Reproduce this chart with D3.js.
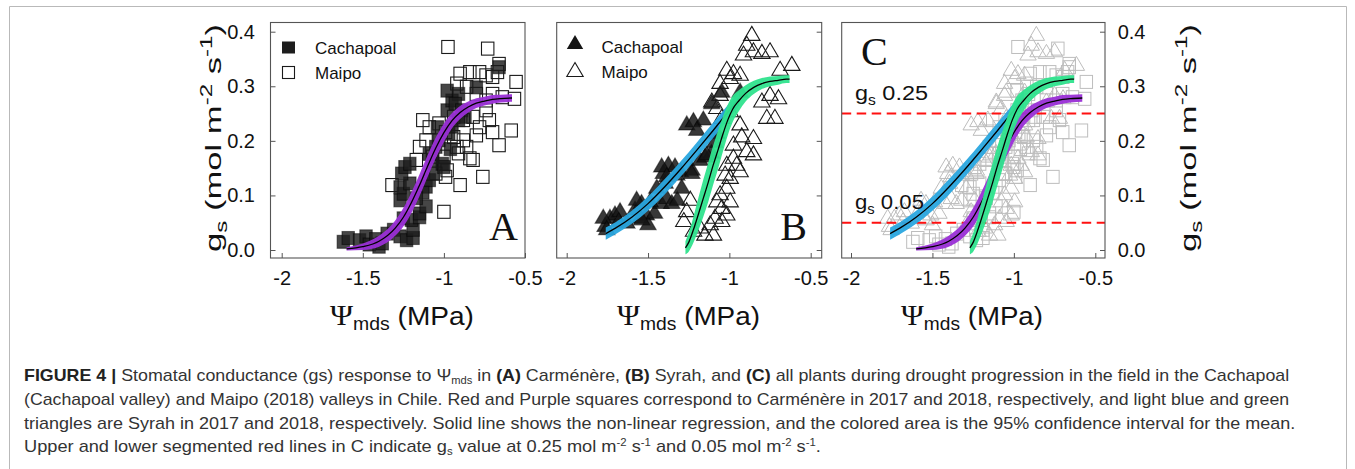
<!DOCTYPE html>
<html>
<head>
<meta charset="utf-8">
<script src="https://cdn.jsdelivr.net/npm/d3@7"></script>
<style>
  html, body { margin: 0; padding: 0; background: #fff; }
  svg { display: block; font-family: "Liberation Sans", Arial, Helvetica, sans-serif; }
</style>
</head>
<body>
<svg id="fig" width="1355" height="469"></svg>
<script>
// ---------- axis ticks ----------
const xTicks = [-2, -1.5, -1, -0.5];
const xTickLabels = ["-2", "-1.5", "-1", "-0.5"];
const yTicks = [0, 0.1, 0.2, 0.3, 0.4];
const yTickLabels = ["0.0", "0.1", "0.2", "0.3", "0.4"];

// ---------- Carménère (squares): Ψmds (MPa) vs gs (mol m-2 s-1) ----------
const carmCachX = [-1.62,-1.59,-1.52,-1.48,-1.46,-1.42,-1.40,-1.38,-1.35,-1.31,-1.27,-1.23,-1.19,-1.19,-1.25,-1.20,-1.15,-1.27,-1.25,-1.27,-1.21,-1.26,-1.24,-1.21,-1.15,-1.11,-1.11,-1.09,-1.07,-1.07,-1.09,-1.05,-1.03,-1.01,-1.00,-0.97,-0.95,-0.98,-0.95,-0.98,-0.91,-0.93,-0.89,-0.87,-0.91,-0.80,-0.66,-1.13,-1.17,-1.04,-0.96];
const carmCachY = [0.015,0.022,0.018,0.025,0.010,0.020,0.006,0.012,0.030,0.037,0.025,0.018,0.022,0.037,0.058,0.055,0.060,0.091,0.103,0.115,0.122,0.140,0.152,0.158,0.067,0.080,0.116,0.128,0.140,0.165,0.176,0.189,0.201,0.158,0.152,0.213,0.226,0.256,0.274,0.292,0.286,0.268,0.256,0.244,0.238,0.298,0.335,0.105,0.095,0.225,0.185];
const carmMaipoX = [-0.975,-0.73,-0.66,-0.67,-0.555,-0.565,-0.90,-0.84,-0.78,-0.74,-0.70,-0.92,-0.86,-0.80,-0.74,-0.70,-0.64,-0.74,-0.72,-0.70,-0.585,-0.66,-0.80,-0.86,-0.84,-0.91,-0.82,-0.76,-0.90,-1.32,-1.00,-1.13,-1.09,-1.03,-0.99,-0.94,-0.88,-0.92,-1.15,-1.11,-1.07,-1.00,-0.98,-0.99,-1.05,-1.17,-0.94,-0.88,-0.82,-0.78];
const carmMaipoY = [0.372,0.369,0.341,0.326,0.308,0.277,0.323,0.326,0.326,0.320,0.317,0.305,0.299,0.286,0.274,0.286,0.280,0.256,0.238,0.216,0.219,0.192,0.210,0.189,0.168,0.177,0.165,0.134,0.119,0.119,0.070,0.238,0.225,0.232,0.216,0.207,0.201,0.189,0.189,0.201,0.171,0.171,0.146,0.134,0.140,0.165,0.244,0.238,0.244,0.225];

// ---------- Syrah (triangles) ----------
const syrCachX = [-1.764,-1.734,-1.703,-1.672,-1.68,-1.63,-1.58,-1.54,-1.55,-1.51,-1.50,-1.46,-1.42,-1.385,-1.354,-1.32,-1.395,-1.406,-1.375,-1.334,-1.30,-1.23,-1.18,-1.15,-1.11,-1.262,-1.221,-1.16,-1.20,-1.077,-1.139,-1.047,-0.934,-1.108,-1.416,-1.385,-1.323,-1.231,-1.293,-1.446,-1.57,-1.487,-1.539,-1.775,-1.754,-1.09];
const syrCachY = [0.046,0.061,0.067,0.073,0.055,0.052,0.076,0.088,0.061,0.067,0.049,0.070,0.088,0.097,0.088,0.094,0.125,0.143,0.158,0.155,0.146,0.149,0.167,0.173,0.180,0.232,0.238,0.241,0.222,0.216,0.177,0.292,0.292,0.271,0.155,0.137,0.140,0.143,0.116,0.116,0.094,0.091,0.058,0.061,0.040,0.200];
const syrMaipoX = [-0.862,-0.893,-0.852,-0.913,-0.80,-0.75,-0.688,-0.616,-1.016,-0.975,-0.995,-1.057,-0.934,-1.057,-1.108,-1.077,-1.047,-0.995,-0.934,-0.924,-0.852,-0.893,-0.852,-0.975,-0.975,-1.016,-1.026,-0.995,-1.016,-1.057,-1.077,-1.047,-1.088,-1.047,-1.118,-1.098,-1.15,-1.24,-1.262,-1.28,-1.22,-1.18,-0.955,-0.934,-0.995,-1.016,-0.77,-0.72,-0.698,-0.80,-0.75];
const syrMaipoY = [0.396,0.378,0.366,0.360,0.363,0.366,0.332,0.341,0.332,0.326,0.317,0.308,0.323,0.286,0.274,0.262,0.244,0.256,0.232,0.210,0.207,0.183,0.177,0.195,0.171,0.158,0.140,0.134,0.116,0.104,0.091,0.079,0.061,0.055,0.049,0.030,0.030,0.094,0.073,0.055,0.037,0.043,0.158,0.146,0.091,0.067,0.244,0.244,0.280,0.274,0.286];

// ---------- non-linear regressions with 95% CI half-width ----------
const fitCarmX    = [-1.60,-1.50,-1.40,-1.30,-1.25,-1.20,-1.15,-1.10,-1.05,-1.00,-0.95,-0.90,-0.85,-0.80,-0.75,-0.70,-0.65,-0.58];
const fitCarmY    = [0.002,0.006,0.016,0.040,0.060,0.087,0.119,0.154,0.187,0.215,0.237,0.252,0.262,0.269,0.273,0.276,0.2775,0.2785];
const fitCarmCI   = [0.003,0.006,0.010,0.014,0.017,0.019,0.020,0.020,0.019,0.017,0.014,0.012,0.010,0.009,0.008,0.008,0.007,0.007];

const fitSyrCachX  = [-1.76,-1.70,-1.60,-1.50,-1.40,-1.30,-1.20,-1.10,-1.00,-0.94];
const fitSyrCachY  = [0.030,0.040,0.060,0.085,0.115,0.148,0.183,0.219,0.256,0.278];
const fitSyrCachCI = [0.011,0.011,0.012,0.013,0.014,0.014,0.014,0.014,0.013,0.013];

const fitSyrMaipoX  = [-1.27,-1.25,-1.22,-1.19,-1.16,-1.13,-1.10,-1.07,-1.04,-1.01,-0.98,-0.94,-0.90,-0.85,-0.80,-0.75,-0.70,-0.65,-0.63];
const fitSyrMaipoY  = [0.004,0.014,0.038,0.066,0.095,0.124,0.155,0.183,0.212,0.238,0.258,0.274,0.287,0.298,0.305,0.309,0.311,0.313,0.313];
const fitSyrMaipoCI = [0.012,0.017,0.024,0.030,0.034,0.036,0.036,0.035,0.032,0.028,0.024,0.019,0.015,0.012,0.010,0.009,0.008,0.007,0.007];

// gs reference levels drawn in panel C
const gsLevels = [0.25, 0.05];
const gsLevelLabels = ["0.25", "0.05"];

// ---------- colours ----------
const colPurple = "#9a2fd6";
const colBlue   = "#2aa7df";
const colGreen  = "#2fe38d";
const ink = "#111";
const frameCol = "#555";

const svg = d3.select("#fig");

// light page border around the figure
svg.append("path")
  .attr("d", "M9.5,469 V6.5 H1346.5 V469")
  .attr("fill", "none").attr("stroke", "#b9b9b9").attr("stroke-width", 1);

// stretch a group so its contents span a given width
function fitGroup(g, x, y, rot, width) {
  const bw = g.node().getBBox().width;
  const s = width / bw;
  g.attr("transform", `translate(${x},${y}) rotate(${rot}) scale(${s},1)`);
}

const panels = [
  { key: "A", frame: [270.5, 525, 22.5, 258], xr: [281.7, 525],    yAxis: "left",  yLabels: true },
  { key: "B", frame: [556.7, 821.7, 22.5, 258], xr: [566.7, 810.7], yAxis: "right", yLabels: false },
  { key: "C", frame: [841.7, 1105, 22.5, 258], xr: [851, 1095.3],   yAxis: "right", yLabels: true }
];

const yScale = d3.scaleLinear().domain([0, 0.4]).range([250, 31.7]);

function band(g, x, y, xs, ys, ci, color) {
  const pts = xs.map((v, i) => ({ x: v, y: ys[i], h: ci[i] }));
  g.append("path").datum(pts)
    .attr("d", d3.area().x(d => x(d.x)).y0(d => y(d.y - d.h)).y1(d => y(d.y + d.h)).curve(d3.curveMonotoneX))
    .attr("fill", color).attr("fill-opacity", 0.95);
  g.append("path").datum(pts)
    .attr("d", d3.line().x(d => x(d.x)).y(d => y(d.y)).curve(d3.curveMonotoneX))
    .attr("fill", "none").attr("stroke", "#000").attr("stroke-width", 1.3);
}

const triPath = "M0,-7.5L8.2,6.5L-8.2,6.5Z";

function drawSquares(g, x, y, xs, ys, filled, gray) {
  g.append("g").selectAll("rect").data(d3.zip(xs, ys)).join("rect")
    .attr("x", d => x(d[0]) - 6.2).attr("y", d => y(d[1]) - 6.5)
    .attr("width", 12.4).attr("height", 13)
    .attr("fill", filled ? "#1d1d1d" : "none")
    .attr("fill-opacity", filled ? 0.82 : null)
    .attr("stroke", gray ? "#bdbdbd" : (filled ? "#000" : "#1a1a1a"))
    .attr("stroke-opacity", filled ? 0.5 : 1)
    .attr("stroke-width", gray ? 1 : 1.1);
}

function drawTriangles(g, x, y, xs, ys, filled, gray) {
  g.append("g").selectAll("path").data(d3.zip(xs, ys)).join("path")
    .attr("d", triPath)
    .attr("transform", d => `translate(${x(d[0])},${y(d[1])})`)
    .attr("fill", filled ? "#151515" : "none")
    .attr("fill-opacity", filled ? 0.85 : null)
    .attr("stroke", gray ? "#bdbdbd" : (filled ? "#000" : "#1a1a1a"))
    .attr("stroke-opacity", filled ? 0.5 : 1)
    .attr("stroke-width", gray ? 1 : 1.1)
    .attr("stroke-linejoin", "miter");
}

function xTitle(cx, width) {
  const g = svg.append("g");
  const t = g.append("text").attr("x", 0).attr("y", 0).attr("fill", ink).attr("text-anchor", "middle");
  t.append("tspan").attr("font-family", "'Liberation Serif', 'Times New Roman', serif").attr("font-size", 29).text("Ψ");
  t.append("tspan").attr("font-size", 18).attr("dy", 5).text("mds");
  t.append("tspan").attr("font-size", 26).attr("dy", -5).text(" (MPa)");
  fitGroup(g, cx, 325, 0, width);
}

function yTitle(cx, cy, length) {
  const g = svg.append("g");
  const t = g.append("text").attr("x", 0).attr("y", 0).attr("fill", ink).attr("text-anchor", "middle").attr("font-size", 23);
  t.append("tspan").text("g");
  t.append("tspan").attr("font-size", 16).attr("dy", 6).text("s");
  t.append("tspan").attr("dy", -6).text(" (mol m");
  t.append("tspan").attr("font-size", 16).attr("dy", -9).text("-2");
  t.append("tspan").attr("dy", 9).text(" s");
  t.append("tspan").attr("font-size", 16).attr("dy", -9).text("-1");
  t.append("tspan").attr("dy", 9).text(")");
  fitGroup(g, cx, cy, -90, length);
}

panels.forEach(p => {
  const [L, R, T, B] = p.frame;
  const x = d3.scaleLinear().domain([-2, -0.5]).range(p.xr);
  const y = yScale;
  const g = svg.append("g").attr("class", "panel-" + p.key);

  // clip marks to the plotting frame
  const clipId = "clip" + p.key;
  svg.append("clipPath").attr("id", clipId)
    .append("rect").attr("x", L).attr("y", T).attr("width", R - L).attr("height", B - T);
  const plot = g.append("g").attr("clip-path", `url(#${clipId})`);

  if (p.key === "A") {
    drawSquares(plot, x, y, carmCachX, carmCachY, true, false);
    drawSquares(plot, x, y, carmMaipoX, carmMaipoY, false, false);
    band(plot, x, y, fitCarmX, fitCarmY, fitCarmCI, colPurple);
  } else if (p.key === "B") {
    drawTriangles(plot, x, y, syrCachX, syrCachY, true, false);
    drawTriangles(plot, x, y, syrMaipoX, syrMaipoY, false, false);
    band(plot, x, y, fitSyrCachX, fitSyrCachY, fitSyrCachCI, colBlue);
    band(plot, x, y, fitSyrMaipoX, fitSyrMaipoY, fitSyrMaipoCI, colGreen);
  } else {
    drawSquares(plot, x, y, carmCachX, carmCachY, false, true);
    drawSquares(plot, x, y, carmMaipoX, carmMaipoY, false, true);
    drawTriangles(plot, x, y, syrCachX, syrCachY, false, true);
    drawTriangles(plot, x, y, syrMaipoX, syrMaipoY, false, true);
    plot.append("g").selectAll("line").data(gsLevels).join("line")
      .attr("x1", L).attr("x2", R)
      .attr("y1", d => y(d)).attr("y2", d => y(d))
      .attr("stroke", "#ff1010").attr("stroke-width", 2)
      .attr("stroke-dasharray", "9.5,5.5");
    band(plot, x, y, fitSyrCachX, fitSyrCachY, fitSyrCachCI, colBlue);
    band(plot, x, y, fitCarmX, fitCarmY, fitCarmCI, colPurple);
    band(plot, x, y, fitSyrMaipoX, fitSyrMaipoY, fitSyrMaipoCI, colGreen);
  }

  // frame
  g.append("rect").attr("x", L).attr("y", T).attr("width", R - L).attr("height", B - T)
    .attr("fill", "none").attr("stroke", frameCol).attr("stroke-width", 1.1);

  // x axis with inward ticks
  const xa = g.append("g").attr("transform", `translate(0,${B})`)
    .call(d3.axisBottom(x).tickValues(xTicks).tickSize(-5).tickPadding(13)
      .tickFormat((d, i) => xTickLabels[i]));
  xa.select(".domain").remove();
  xa.selectAll("line").attr("stroke", frameCol);
  xa.selectAll("text").attr("font-size", 20).attr("fill", ink)
    .attr("font-family", "'Liberation Sans', Arial, sans-serif");

  // y axis with inward ticks
  const yAxisGen = (p.yAxis === "left" ? d3.axisLeft(y) : d3.axisRight(y))
    .tickValues(yTicks).tickSize(-5)
    .tickPadding(p.yAxis === "left" ? 15.5 : 12.7)
    .tickFormat((d, i) => p.yLabels ? yTickLabels[i] : "");
  const ya = g.append("g").attr("transform", `translate(${p.yAxis === "left" ? L : R},0)`).call(yAxisGen);
  ya.select(".domain").remove();
  ya.selectAll("line").attr("stroke", frameCol);
  ya.selectAll("text").attr("font-size", 20).attr("fill", ink)
    .attr("font-family", "'Liberation Sans', Arial, sans-serif");

  // panel letter
  const letter = g.append("text").attr("font-family", "'Liberation Serif', 'Times New Roman', serif")
    .attr("font-size", 40).attr("fill", ink).text(p.key);
  if (p.key === "A") letter.attr("x", 518).attr("y", 240).attr("text-anchor", "end");
  if (p.key === "B") letter.attr("x", 807).attr("y", 240).attr("text-anchor", "end");
  if (p.key === "C") letter.attr("x", 861).attr("y", 65);

  // legends
  if (p.key === "A") {
    g.append("rect").attr("x", 282).attr("y", 41.5).attr("width", 13).attr("height", 12).attr("fill", "#1d1d1d");
    g.append("rect").attr("x", 282.5).attr("y", 66.5).attr("width", 12).attr("height", 12)
      .attr("fill", "none").attr("stroke", "#1a1a1a").attr("stroke-width", 1.1);
    g.append("text").attr("x", 315).attr("y", 53.5).attr("font-size", 17).attr("fill", ink).text("Cachapoal");
    g.append("text").attr("x", 315).attr("y", 78.5).attr("font-size", 17).attr("fill", ink).text("Maipo");
  }
  if (p.key === "B") {
    g.append("path").attr("d", triPath).attr("transform", "translate(575,42.5)").attr("fill", "#151515");
    g.append("path").attr("d", triPath).attr("transform", "translate(575,70)")
      .attr("fill", "none").attr("stroke", "#1a1a1a").attr("stroke-width", 1.1);
    g.append("text").attr("x", 601.5).attr("y", 53).attr("font-size", 17).attr("fill", ink).text("Cachapoal");
    g.append("text").attr("x", 601.5).attr("y", 78).attr("font-size", 17).attr("fill", ink).text("Maipo");
  }

  // gs level labels in C
  if (p.key === "C") {
    gsLevels.forEach((lv, i) => {
      const lg = g.append("g");
      const t = lg.append("text").attr("x", 0).attr("y", 0).attr("font-size", 21).attr("fill", ink);
      t.append("tspan").text("g");
      t.append("tspan").attr("font-size", 14).attr("dy", 5).text("s");
      t.append("tspan").attr("dy", -5).text(" " + gsLevelLabels[i]);
      fitGroup(lg, 855, y(lv) - 13.5, 0, i === 0 ? 73 : 69);
    });
  }
});

// axis titles
xTitle(402, 144);
xTitle(688.5, 143);
xTitle(972, 142);
yTitle(221, 138, 228);
yTitle(1196, 138, 228);

// ---------- caption ----------
const capCol = "#333";
const capLines = [
  [["b", "FIGURE 4 | "], ["n", "Stomatal conductance (gs) response to Ψ"], ["sub", "mds"], ["n", " in "], ["b", "(A)"], ["n", " Carménère, "], ["b", "(B)"], ["n", " Syrah, and "], ["b", "(C)"], ["n", " all plants during drought progression in the field in the Cachapoal"]],
  [["n", "(Cachapoal valley) and Maipo (2018) valleys in Chile. Red and Purple squares correspond to Carménère in 2017 and 2018, respectively, and light blue and green"]],
  [["n", "triangles are Syrah in 2017 and 2018, respectively. Solid line shows the non-linear regression, and the colored area is the 95% confidence interval for the mean."]],
  [["n", "Upper and lower segmented red lines in C indicate g"], ["sub", "s"], ["n", " value at 0.25 mol m"], ["sup", "-2"], ["n", " s"], ["sup", "-1"], ["n", " and 0.05 mol m"], ["sup", "-2"], ["n", " s"], ["sup", "-1"], ["n", "."]]
];
const capBaselines = [381, 405, 429, 452];
const capWidths = [1266, 1266, 1272, 798];

capLines.forEach((parts, li) => {
  const lg = svg.append("g");
  const t = lg.append("text").attr("x", 0).attr("y", 0).attr("font-size", 16).attr("fill", capCol);
  let shift = 0;
  parts.forEach(([kind, str]) => {
    const ts = t.append("tspan").text(str);
    let target = 0;
    if (kind === "b") ts.attr("font-weight", "bold").attr("fill", "#222");
    if (kind === "sub") { ts.attr("font-size", 10); target = 3; }
    if (kind === "sup") { ts.attr("font-size", 10); target = -6; }
    ts.attr("dy", target - shift);
    shift = target;
  });
  fitGroup(lg, 24, capBaselines[li], 0, capWidths[li]);
});
</script>
</body>
</html>
